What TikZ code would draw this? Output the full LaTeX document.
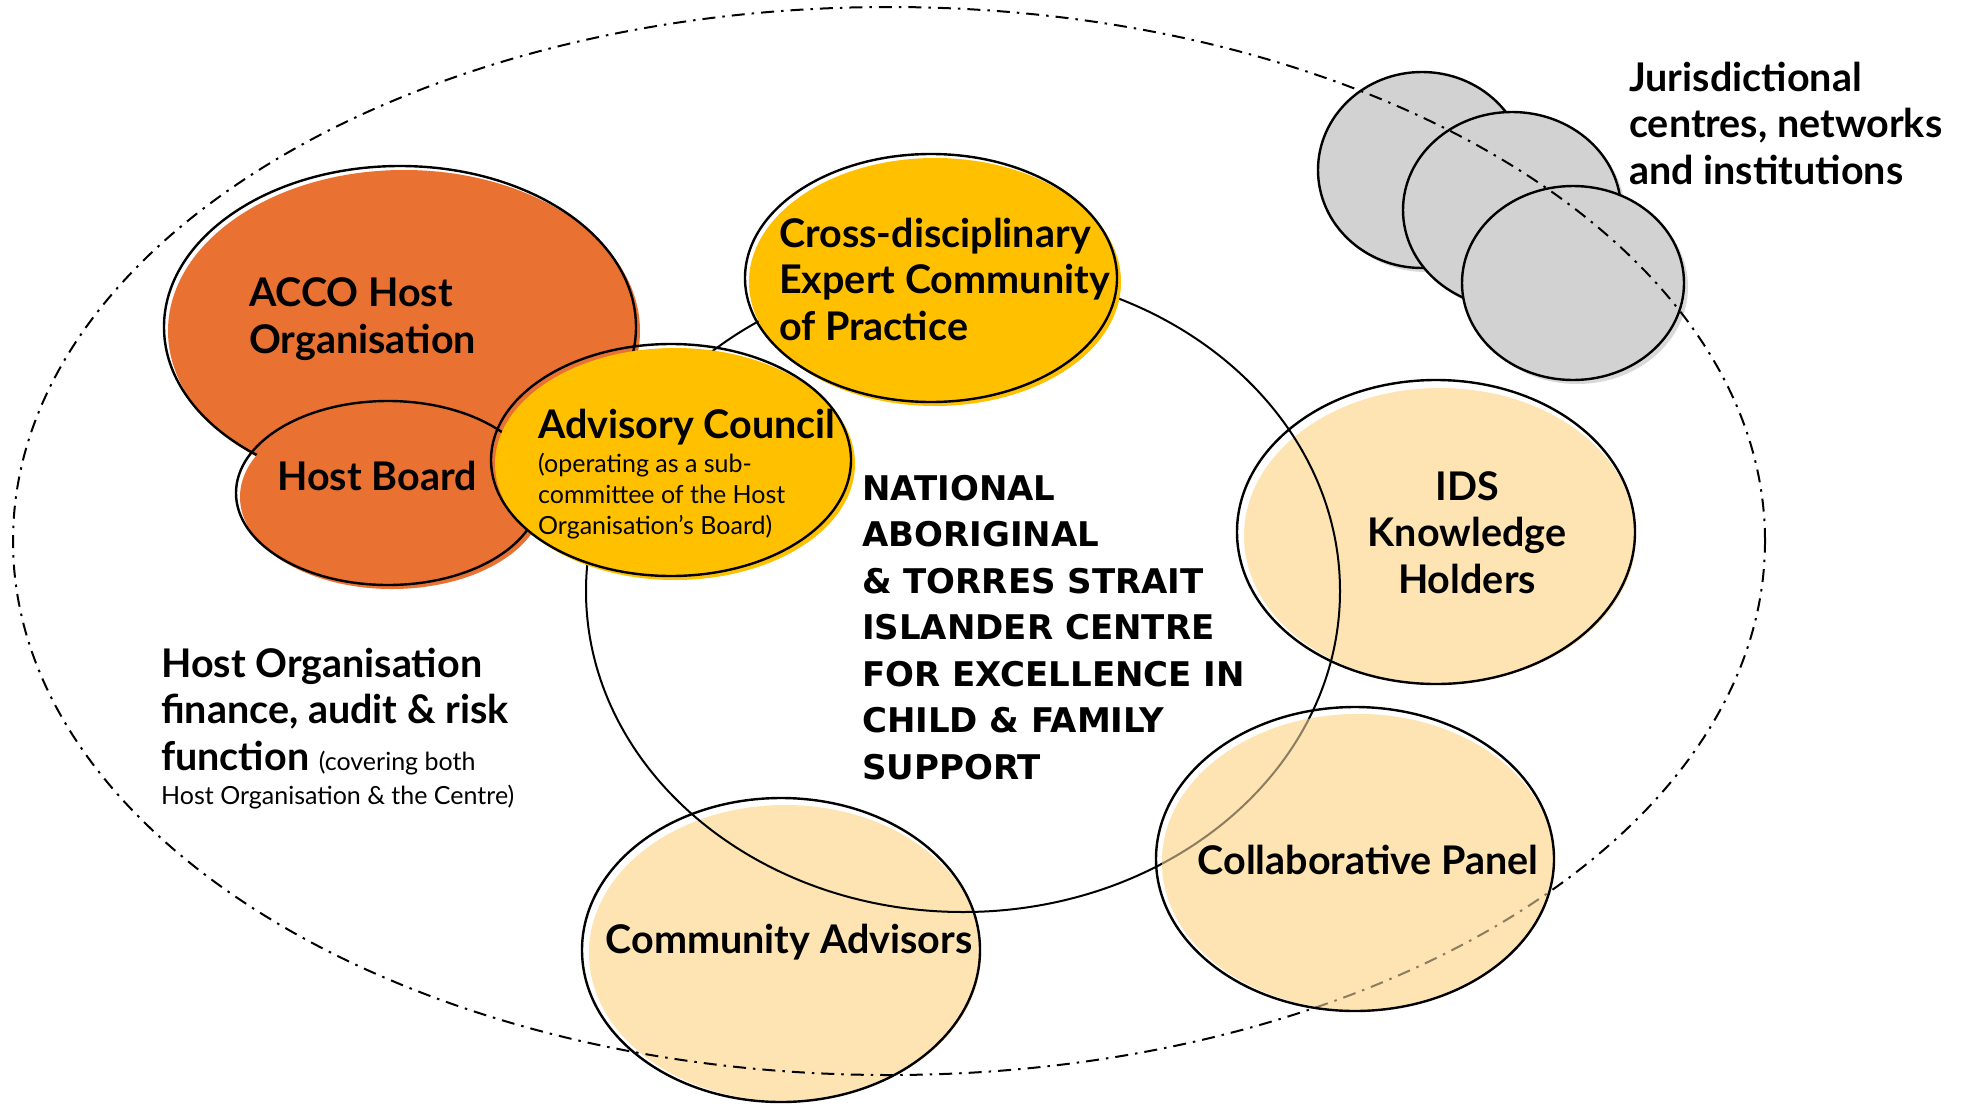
\documentclass[tikz,border=0pt]{standalone}
\usepackage{fontspec}
\setmainfont{Lato}
\newfontfamily\centrefont{DejaVu Sans}
\definecolor{accoorange}{HTML}{E97132}
\definecolor{gold}{HTML}{FFC000}
\definecolor{pale}{HTML}{FDE4B2}
\definecolor{greyfill}{HTML}{D2D2D2}
\begin{document}
\begin{tikzpicture}[x=1pt,y=-1pt,
  outline/.style={draw=black, line width=2.4pt},
  thinline/.style={draw=black, line width=2pt},
  dashdot/.style={draw=black, line width=2pt, dash pattern=on 13pt off 7pt on 2.5pt off 7pt},
  big/.style={font=\fontsize{39.5}{46.5}\selectfont\bfseries, inner sep=0pt, align=left},
  bigc/.style={big, align=center},
  centretext/.style={font=\fontsize{34}{46.5}\selectfont\centrefont\bfseries, inner sep=0pt, align=left},
  small/.style={font=\fontsize{25}{31}\selectfont, inner sep=0pt, align=left}]
\useasboundingbox (0,0) rectangle (1971,1106);
\fill[white] (0,0) rectangle (1971,1106);

% jurisdictional grey circles
\fill[greyfill!85] (1426,174) ellipse [x radius=104pt, y radius=98pt];
\draw[outline, fill=greyfill] (1422,170) ellipse [x radius=104pt, y radius=98pt];
\fill[greyfill!85] (1516,214) ellipse [x radius=109pt, y radius=98pt];
\draw[outline, fill=greyfill] (1512,210) ellipse [x radius=109pt, y radius=98pt];
\fill[greyfill!85] (1577,287) ellipse [x radius=111pt, y radius=97pt];
\draw[outline, fill=greyfill] (1573,283) ellipse [x radius=111pt, y radius=97pt];

% pale fills
\fill[pale] (1440,536) ellipse [x radius=196pt, y radius=148pt];
\fill[pale] (1358,862) ellipse [x radius=196pt, y radius=148pt];
\fill[pale] (785,953) ellipse [x radius=196pt, y radius=148pt];

% outer dash-dot boundary and central circle
\draw[dashdot] (889,541) ellipse [x radius=876pt, y radius=534pt];
\draw[thinline] (963,591) ellipse [x radius=377pt, y radius=321pt];

% collaborative panel fill partly over the lines
\fill[pale, opacity=0.55] (1358,862) ellipse [x radius=196pt, y radius=148pt];

% pale outlines
\draw[outline] (1436,532) ellipse [x radius=199pt, y radius=152pt];
\draw[outline] (1355,859) ellipse [x radius=199pt, y radius=152pt];
\draw[outline] (781,950) ellipse [x radius=199pt, y radius=152pt];

% orange and gold bodies
\fill[accoorange] (404,331) ellipse [x radius=236pt, y radius=161pt];
\draw[outline] (400,327) ellipse [x radius=236pt, y radius=161pt];
\fill[accoorange] (392,497) ellipse [x radius=152pt, y radius=92pt];
\draw[outline] (388,493) ellipse [x radius=152pt, y radius=92pt];
\fill[gold] (675,464) ellipse [x radius=180pt, y radius=116pt];
\draw[outline] (671,460) ellipse [x radius=180pt, y radius=116pt];
\fill[gold] (935,282) ellipse [x radius=186pt, y radius=124pt];
\draw[outline] (931,278) ellipse [x radius=186pt, y radius=124pt];

% texts (base anchor = baseline of the last line)
\node[big, anchor=base west] (jur) at (1629,184) {Jurisdictional\\centres, networks\\and institutions};
\node[big, anchor=base west] (acco) at (249,353) {ACCO Host\\Organisation};
\node[big, anchor=base] (board) at (377,490) {Host Board};
\node[big, anchor=base west] (adv) at (538,438) {Advisory Council};
\node[small, anchor=base west] (advsub) at (538,534) {(operating as a sub-\\committee of the Host\\Organisation’s Board)};
\node[big, anchor=base west] (cross) at (779,340) {Cross-disciplinary\\Expert Community\\of Practice};
\node[centretext, anchor=base west] (centre) at (862,779) {NATIONAL\\ABORIGINAL\\\& TORRES STRAIT\\ISLANDER CENTRE\\FOR EXCELLENCE IN\\CHILD \& FAMILY\\SUPPORT};
\node[bigc, anchor=base] (ids) at (1467,593) {IDS\\Knowledge\\Holders};
\node[big, anchor=base] (collab) at (1368,874) {Collaborative Panel};
\node[big, anchor=base] (comm) at (789,953) {Community Advisors};
\node[big, anchor=base west] (fin) at (161,770) {Host Organisation\\finance, audit \& risk\\function {\fontsize{25}{31}\selectfont\mdseries(covering both}};
\node[small, anchor=base west] (fin2) at (161,804) {Host Organisation \& the Centre)};
\end{tikzpicture}
\end{document}
